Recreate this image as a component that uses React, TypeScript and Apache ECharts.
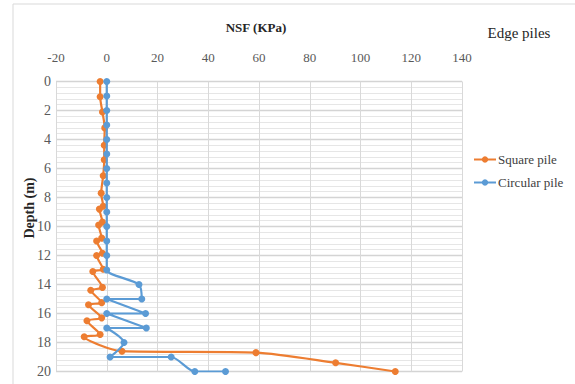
import React, { useEffect, useRef } from "react";
import * as echarts from "echarts";

const seriesNames = ["Square pile", "Circular pile"];

const squareNSF = [
  -2.6, -2.6, -1.7, -0.8, -1.0, -1.0, -1.4, -2.2, -1.4, -2.9, -1.7, -3.2, -2.0, -4.0,
  -1.7, -4.0, -1.4, -5.5, -1.7, -6.3, -2.0, -7.2, -2.0, -7.8, -2.6, -8.9, 6.0, 58.8,
  90.2, 113.7,
];
const squareDepth = [
  0, 1.05, 2.1, 3.2, 4.4, 5.4, 6.5, 7.7, 8.6, 8.8, 9.7, 9.9, 10.8, 11.0, 11.85, 12.0,
  12.95, 13.1, 14.2, 14.4, 15.25, 15.4, 16.3, 16.5, 17.45, 17.6, 18.6, 18.7, 19.4, 20,
];

const circularNSF = [
  0, 0, 0, 0, 0, 0, 0, 0, 0, 0, 0, 0, 0, 0, 12.7, 13.8, 0, 15.3, 0, 15.6, 0, 6.8, 1.3,
  25.4, 34.7, 46.8,
];
const circularDepth = [
  0, 1, 2, 3, 4, 5, 6, 7, 8, 9, 10, 11, 12, 13, 14, 15, 15, 16, 16, 17, 17, 18, 19, 19,
  20, 20,
];

const xMin = -20;
const xMax = 140;
const xStep = 20;
const yMin = 0;
const yMax = 20;
const yStep = 2;

const titleText = "NSF (KPa)";
const subTitleText = "Edge piles";
const yAxisTitle = "Depth (m)";

const SERIF = "Liberation Serif";

export default function App() {
  const ref = useRef<HTMLDivElement>(null);

  useEffect(() => {
    if (!ref.current) return;
    const chart = echarts.init(ref.current, undefined, { renderer: "svg" });
    const squareData = squareNSF.map((v, i) => [v, squareDepth[i]]);
    const circularData = circularNSF.map((v, i) => [v, circularDepth[i]]);

    chart.setOption({
      animation: false,
      backgroundColor: "#ffffff",
      textStyle: { fontFamily: SERIF },
      grid: { left: 56, right: 113, top: 81.5, bottom: 12.5, containLabel: false },
      xAxis: {
        type: "value",
        position: "top",
        min: xMin,
        max: xMax,
        interval: xStep,
        axisLine: { show: false },
        axisTick: { show: false },
        axisLabel: {
          color: "#595959",
          fontFamily: SERIF,
          fontSize: 13,
          margin: 18,
        },
        splitLine: { show: true, lineStyle: { color: "#d9d9d9", width: 1 } },
      },
      yAxis: {
        type: "value",
        inverse: true,
        min: yMin,
        max: yMax,
        interval: yStep,
        axisLine: { show: true, onZero: true, lineStyle: { color: "#d9d9d9", width: 1 } },
        axisTick: { show: false },
        axisLabel: {
          color: "#595959",
          fontFamily: SERIF,
          fontSize: 14,
          margin: 5,
        },
        splitLine: { show: true, lineStyle: { color: "#d4d4d4", width: 1.3 } },
        minorTick: { show: false, splitNumber: 5 },
        minorSplitLine: { show: true, lineStyle: { color: "#e6e6e6", width: 1 } },
      },
      legend: {
        orient: "vertical",
        left: 473,
        top: 153,
        padding: 0,
        itemWidth: 22,
        itemHeight: 8,
        itemGap: 10,
        data: seriesNames,
        textStyle: { fontFamily: SERIF, fontSize: 13, color: "#404040", padding: [0, 0, 0, -3] },
      },
      graphic: [
        {
          type: "rect",
          shape: { x: 13, y: 4, width: 700, height: 500 },
          style: { fill: "none", stroke: "#d9d9d9", lineWidth: 1 },
          silent: true,
        },
        {
          type: "text",
          x: 256,
          y: 27,
          style: {
            text: titleText,
            fontFamily: SERIF,
            fontSize: 13,
            fontWeight: "bold",
            fill: "#262626",
            align: "center",
            verticalAlign: "middle",
          },
        },
        {
          type: "text",
          x: 519,
          y: 33,
          style: {
            text: subTitleText,
            fontFamily: SERIF,
            fontSize: 15,
            fill: "#262626",
            align: "center",
            verticalAlign: "middle",
          },
        },
        {
          type: "text",
          x: 29.5,
          y: 208,
          rotation: Math.PI / 2,
          style: {
            text: yAxisTitle,
            fontFamily: SERIF,
            fontSize: 14,
            fontWeight: "bold",
            fill: "#262626",
            align: "center",
            verticalAlign: "middle",
          },
        },
      ],
      series: [
        {
          name: seriesNames[0],
          type: "line",
          data: squareData,
          smooth: 0.25,
          symbol: "circle",
          symbolSize: 7,
          color: "#ED7D31",
          lineStyle: { width: 2.2, color: "#ED7D31" },
          itemStyle: { color: "#ED7D31" },
          z: 3,
        },
        {
          name: seriesNames[1],
          type: "line",
          data: circularData,
          smooth: 0.25,
          symbol: "circle",
          symbolSize: 7,
          color: "#5B9BD5",
          lineStyle: { width: 2.2, color: "#5B9BD5" },
          itemStyle: { color: "#5B9BD5" },
          z: 4,
        },
      ],
    });
    return () => chart.dispose();
  }, []);

  return (
    <div
      ref={ref}
      style={{ position: "fixed", left: 0, top: 0, width: 575, height: 384 }}
    />
  );
}
